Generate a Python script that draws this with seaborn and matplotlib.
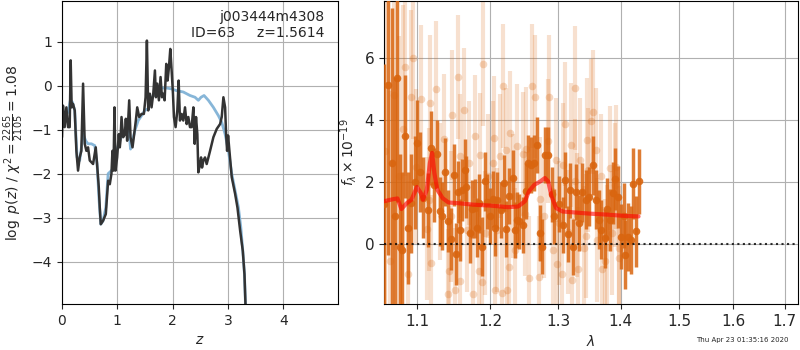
import matplotlib
matplotlib.use('Agg')
import matplotlib.pyplot as plt
import seaborn as sns

# ---- p(z) panel ----
z_pz = [0.0, 0.018, 0.048, 0.079, 0.109, 0.139, 0.157, 0.175, 0.199, 0.230, 0.260, 0.290,
        0.320, 0.350, 0.381, 0.411, 0.441, 0.471, 0.502, 0.562, 0.610, 0.634, 0.665, 0.683,
        0.701, 0.743, 0.792, 0.834, 0.864, 0.894, 0.912, 0.931, 0.949, 0.967, 0.997, 1.027,
        1.045, 1.057, 1.076, 1.106, 1.136, 1.154, 1.178, 1.215, 1.239, 1.275, 1.305, 1.335,
        1.360, 1.396, 1.438, 1.480, 1.511, 1.535, 1.559, 1.589, 1.619, 1.650, 1.680, 1.698,
        1.722, 1.752, 1.782, 1.807, 1.831, 1.855, 1.885, 1.909, 1.934, 1.958, 1.982, 2.006,
        2.024, 2.054, 2.085, 2.109, 2.133, 2.163, 2.193, 2.224, 2.254, 2.284, 2.314, 2.344,
        2.375, 2.399, 2.423, 2.447, 2.465, 2.495, 2.514, 2.532, 2.556, 2.586, 2.616, 2.647,
        2.677, 2.737, 2.798, 2.858, 2.888, 2.918, 2.949, 2.967, 2.985, 3.003, 3.027, 3.069,
        3.130, 3.172, 3.221, 3.269, 3.299, 3.317]
logpz = [-1.17, -0.45, -0.94, -0.49, -0.94, -0.94, 0.58, -0.49, -0.41, -0.56, -1.48, -1.93,
         -1.63, -1.48, 0.05, -1.32, -1.48, -1.40, -1.70, -1.78, -1.40, -1.78, -2.31, -2.77,
         -3.15, -3.07, -2.92, -2.16, -2.24, -2.00, -1.48, -1.93, -0.49, -1.93, -1.63, -1.10,
         -1.40, -1.25, -0.71, -1.17, -1.10, -0.75, -1.25, -0.33, -1.17, -1.40, -1.10, -0.79,
         -0.49, -0.71, -0.64, -0.64, -0.26, 1.03, -0.56, -0.18, -0.49, -0.18, 0.35, -0.26,
         0.05, -0.33, 0.20, -0.26, -0.18, -0.33, 0.50, 0.12, 0.43, 0.84, 0.35, -0.18, -0.71,
         -0.94, -0.56, 0.12, -0.79, -0.64, -0.79, -0.49, -0.87, -0.71, -0.94, -0.94, -0.49,
         -1.32, -0.71, -1.10, -1.97, -1.78, -1.63, -1.86, -1.70, -1.63, -1.78, -1.63, -1.48,
         -1.17, -0.98, -0.87, -0.71, -0.26, -0.49, -1.10, -1.48, -1.13, -1.48, -2.08, -2.46,
         -2.77, -3.30, -3.76, -4.29, -4.97]

z_prior = [0.0, 0.048, 0.109, 0.151, 0.187, 0.230, 0.272, 0.320, 0.381, 0.429, 0.471, 0.532,
           0.592, 0.634, 0.671, 0.701, 0.743, 0.792, 0.834, 0.894, 0.937, 0.985, 1.045, 1.106,
           1.166, 1.196, 1.239, 1.275, 1.317, 1.378, 1.438, 1.498, 1.559, 1.601, 1.650, 1.710,
           1.770, 1.891, 1.982, 2.072, 2.193, 2.314, 2.405, 2.465, 2.514, 2.568, 2.647, 2.737,
           2.828, 2.888, 2.949, 3.009, 3.069, 3.130, 3.190, 3.233, 3.269, 3.299, 3.317]
logprior = [-0.79, -0.68, -0.60, -0.33, -0.37, -0.56, -1.63, -1.70, -1.10, -1.25, -1.32,
            -1.32, -1.36, -1.78, -2.62, -3.15, -3.07, -2.77, -2.00, -1.93, -1.86, -1.48,
            -1.25, -1.06, -1.02, -0.79, -1.44, -1.25, -1.02, -0.79, -0.68, -0.56, -0.52,
            -0.33, -0.22, -0.09, -0.05, -0.05, -0.07, -0.11, -0.14, -0.22, -0.26, -0.33,
            -0.26, -0.22, -0.33, -0.49, -0.68, -0.83, -1.10, -1.48, -2.00, -2.39, -2.77,
            -3.22, -3.76, -4.29, -4.97]

# ---- spectrum panel ----
wave_hi = [1.058, 1.063, 1.068, 1.072, 1.0746, 1.078, 1.081, 1.085, 1.089, 1.093, 1.097,
           1.100, 1.104, 1.108, 1.114, 1.118, 1.123, 1.127, 1.130, 1.133, 1.137, 1.141,
           1.145, 1.149, 1.152, 1.155, 1.158, 1.160, 1.164, 1.166, 1.171, 1.174, 1.178,
           1.181, 1.184, 1.188, 1.192, 1.195, 1.199, 1.203, 1.207, 1.210, 1.215, 1.220,
           1.223, 1.227, 1.232, 1.235, 1.238, 1.242, 1.247, 1.252, 1.255, 1.259, 1.263,
           1.268, 1.273, 1.276, 1.280, 1.285, 1.290, 1.294, 1.302, 1.307, 1.311, 1.316,
           1.319, 1.324, 1.328, 1.333, 1.338, 1.344, 1.349, 1.355, 1.360, 1.364, 1.368,
           1.374, 1.378, 1.382, 1.387, 1.390, 1.396, 1.400, 1.405, 1.408, 1.413, 1.418,
           1.421, 1.426, 1.431]
flux_hi = [1.3, 5.14, 2.6, 0.9, 5.35, -0.08, -0.18, 3.47, 0.52, 1.32, 2.0, 3.26, 2.32, 1.5,
           1.09, 3.1, 1.9, 2.9, 1.05, 0.9, 2.32, 0.73, 0.17, 2.24, -0.32, 1.67, 0.46, 1.73,
           2.38, 1.84, 0.35, 1.13, 1.16, 0.52, 1.32, -0.08, 2.02, 1.37, 0.9, 1.45, 0.52, 1.43,
           1.09, 1.96, 0.48, 1.54, 2.13, 0.46, 0.78, 0.73, 0.61, 1.70, 2.63, 2.56, 2.61, 3.19,
           0.35, -0.08, 2.88, 2.88, 1.6, 0.89, 1.30, 0.62, 2.07, 0.33, 1.73, -0.10, 1.67, 0.68,
           1.67, 1.43, 1.52, 2.54, 1.43, 0.78, 0.46, 0.19, 1.13, 0.78, 1.65, 2.10, 1.52, 0.23,
           0.91, -0.34, 0.23, 0.14, 1.95, 0.41, 2.02]
err_hi = [4.5, 5.5, 5.0, 4.5, 4.0, 3.0, 2.5, 2.0, 1.8, 1.6, 1.5, 1.4, 1.3, 1.3, 1.2, 1.2,
          1.2, 1.1, 1.1, 1.1, 1.1, 1.0, 1.0, 1.0, 1.0, 1.0, 1.0, 1.0, 1.0, 1.0, 0.95, 0.95,
          0.95, 0.95, 0.95, 0.95, 0.95, 0.9, 0.9, 0.9, 0.9, 0.9, 0.9, 0.9, 0.9, 0.9, 0.9,
          0.9, 0.9, 0.9, 0.9, 0.9, 0.9, 0.9, 0.9, 0.9, 0.9, 0.9, 0.9, 0.9, 0.9, 0.9, 0.9,
          0.9, 0.9, 0.9, 0.9, 0.9, 0.9, 0.9, 0.95, 0.95, 0.95, 0.95, 0.95, 0.95, 0.95, 0.95,
          1.0, 1.0, 1.0, 1.0, 1.0, 1.05, 1.05, 1.1, 1.1, 1.1, 1.15, 1.15, 1.05]

wave_lo = [1.059, 1.066, 1.071, 1.077, 1.082, 1.085, 1.089, 1.093, 1.095, 1.099, 1.106,
           1.113, 1.116, 1.117, 1.119, 1.125, 1.131, 1.136, 1.141, 1.142, 1.145, 1.147,
           1.151, 1.155, 1.157, 1.158, 1.163, 1.167, 1.170, 1.175, 1.178, 1.184, 1.186,
           1.188, 1.190, 1.192, 1.196, 1.204, 1.205, 1.206, 1.210, 1.213, 1.217, 1.218,
           1.222, 1.224, 1.227, 1.228, 1.233, 1.235, 1.238, 1.247, 1.250, 1.252, 1.256,
           1.260, 1.265, 1.271, 1.273, 1.278, 1.284, 1.286, 1.292, 1.297, 1.299, 1.301,
           1.306, 1.308, 1.311, 1.315, 1.320, 1.322, 1.326, 1.327, 1.329, 1.331, 1.335,
           1.340, 1.344, 1.345, 1.347, 1.352, 1.355, 1.360, 1.362, 1.368, 1.370, 1.375,
           1.378, 1.382, 1.385, 1.390, 1.393, 1.397, 1.398]
flux_lo = [3.0, -0.56, 4.8, 2.2, 3.7, 5.7, -0.96, 4.76, 6.0, 2.5, 4.68, 0.5, 1.43, 4.55,
           -0.61, 5.0, 1.70, 3.4, -1.61, -0.88, 0.89, 4.17, -1.49, 5.38, -1.2, 2.85, 4.33,
           0.46, 2.6, -1.61, 3.47, -0.88, 2.88, -1.24, 5.8, 0.35, 2.2, 2.61, 3.42, -1.47,
           0.46, 2.83, -1.58, 5.1, 3.04, -1.47, -0.75, 3.58, 1.54, -0.18, 3.17, 2.91, 0.98,
           3.06, -1.10, 5.1, 4.76, -1.08, 1.45, 0.89, 3.31, 4.73, -0.18, 2.72, -0.63, 0.68,
           -0.96, 2.56, 3.88, 0.39, 3.2, -1.15, 2.02, 5.03, 0.95, -0.81, 2.72, -0.13, 0.25,
           3.37, 2.40, 3.96, 4.25, 3.02, 0.14, 2.20, -0.81, -0.56, -0.08, 2.45, 0.35, 1.91,
           2.50, -0.13, -0.45]
err_lo = [6.0, 5.5, 5.0, 4.5, 4.0, 3.5, 3.0, 2.8, 2.6, 2.5, 2.4, 2.3, 2.3, 2.2, 2.2, 2.2,
          2.2, 2.1, 2.1, 2.1, 2.1, 2.1, 2.0, 2.0, 2.0, 2.0, 2.0, 2.0, 2.0, 2.0, 2.0, 2.0,
          2.0, 2.0, 2.0, 2.0, 2.0, 2.0, 2.0, 2.0, 2.0, 2.0, 2.0, 2.0, 2.0, 2.0, 2.0, 2.0,
          2.0, 2.0, 2.0, 2.0, 2.0, 2.0, 2.0, 2.0, 2.0, 2.0, 2.0, 2.0, 2.0, 2.0, 2.0, 2.0,
          2.0, 2.0, 2.0, 2.0, 2.0, 2.0, 2.0, 2.0, 2.0, 2.0, 2.0, 2.0, 2.0, 2.0, 2.0, 2.0,
          2.0, 2.0, 2.0, 2.0, 2.0, 2.0, 2.0, 2.0, 2.0, 2.0, 2.0, 2.0, 2.0, 2.0, 2.0]

wave_model = [1.058, 1.07, 1.075, 1.08, 1.087, 1.093, 1.1, 1.105, 1.108, 1.113, 1.117, 1.12,
              1.123, 1.127, 1.134, 1.142, 1.154, 1.176, 1.2, 1.225, 1.24, 1.25, 1.256,
              1.264, 1.273, 1.28, 1.285, 1.29, 1.297, 1.307, 1.325, 1.35, 1.377, 1.405, 1.43]
flux_model = [1.38, 1.45, 1.47, 1.13, 1.32, 1.43, 1.84, 1.65, 1.43, 1.75, 2.61, 2.94, 2.29,
              1.75, 1.48, 1.34, 1.32, 1.27, 1.24, 1.19, 1.21, 1.38, 1.70, 1.91, 2.02, 2.13,
              2.02, 1.54, 1.16, 1.05, 1.02, 0.98, 0.95, 0.91, 0.89]

wave_ticks = [1.1, 1.2, 1.3, 1.4, 1.5, 1.6, 1.7]
orange = '#d9650f'

plt.style.use('default')
sns.set_style('ticks')
plt.rcParams['font.family'] = ['DejaVu Sans']

fig = plt.figure(figsize=(8, 3.5), dpi=100)
ax1 = fig.add_axes([0.0775, 0.131, 0.345, 0.866])
ax2 = fig.add_axes([0.48, 0.131, 0.5175, 0.866])

# p(z)
sns.lineplot(x=z_prior, y=logprior, ax=ax1, sort=False, estimator=None,
             color='#7aaed4', linewidth=2, alpha=0.9)
sns.lineplot(x=z_pz, y=logpz, ax=ax1, sort=False, estimator=None,
             color='#333333', linewidth=1.8)
ax1.set_xlim(0, 4.99)
ax1.set_ylim(-4.97, 1.93)
ax1.set_xticks([0, 1, 2, 3, 4])
ax1.set_yticks([-4, -3, -2, -1, 0, 1])
ax1.grid(True, color='#b0b0b0', linewidth=0.8)
ax1.set_xlabel(r'$z$')
ax1.set_ylabel(r'$\log\ p(z)$' + ' / ' + r'$\chi^2=\frac{2265}{2105}=1.08$')
ax1.text(0.95, 0.97, 'j003444m4308\nID=63     z=1.5614', transform=ax1.transAxes,
         ha='right', va='top', fontsize=10, multialignment='right')
for s in ax1.spines.values():
    s.set_color('k')

# spectrum
ax2.errorbar(wave_lo, flux_lo, yerr=err_lo, fmt='none', ecolor=orange, elinewidth=3,
             alpha=0.2, zorder=2)
sns.scatterplot(x=wave_lo, y=flux_lo, ax=ax2, color=orange, s=30, alpha=0.25,
                linewidth=0, zorder=2)
ax2.errorbar(wave_hi, flux_hi, yerr=err_hi, fmt='none', ecolor=orange, elinewidth=2.5,
             alpha=0.85, zorder=3)
sns.scatterplot(x=wave_hi, y=flux_hi, ax=ax2, color=orange, s=30, alpha=0.9,
                linewidth=0, zorder=3)
sns.lineplot(x=wave_model, y=flux_model, ax=ax2, sort=False, estimator=None,
             color='red', linewidth=3, alpha=0.6, zorder=4)
ax2.axhline(0, color='k', linestyle=':', linewidth=1.5, alpha=0.8, zorder=5)
ax2.set_xscale('log')
ax2.set_xlim(1.058, 1.727)
ax2.set_xticks(wave_ticks)
ax2.set_xticklabels([f'{w:.1f}' for w in wave_ticks])
ax2.xaxis.set_minor_locator(matplotlib.ticker.NullLocator())
ax2.set_ylim(-1.94, 7.84)
ax2.set_yticks([0, 2, 4, 6])
ax2.tick_params(labelsize=11)
ax2.grid(True, color='#b0b0b0', linewidth=0.8)
ax2.set_xlabel(r'$\lambda$')
ax2.set_ylabel(r'$f_\lambda\times10^{-19}$')
for s in ax2.spines.values():
    s.set_color('k')

fig.text(0.9275, 0.028, 'Thu Apr 23 01:35:16 2020', ha='center', va='center', fontsize=5)

fig.savefig('out.png', dpi=100)
